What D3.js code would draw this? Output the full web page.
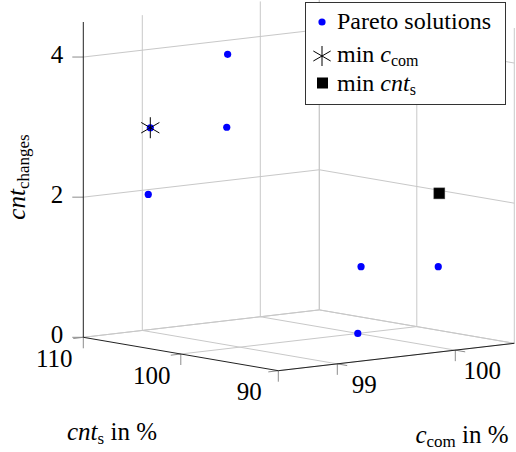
<!DOCTYPE html>
<html>
<head>
<meta charset="utf-8">
<script src="https://cdn.jsdelivr.net/npm/d3@7"></script>
<style>
  body { margin: 0; background: white; }
</style>
</head>
<body>
<div class="Chart"></div>
<script>
// Pareto solutions (cnt_s in %, c_com in %, cnt_changes)
const cntS = [105.0, 107.0, 104.0, 108.3, 98.7, 95.5, 100.0];
const cCom = [99.31, 98.82, 99.22, 98.91, 99.92, 100.31, 100.0];
const cntChanges = [4, 3, 3, 2, 1, 1, 0];

// special solutions
const minCcom = [107.0, 98.82, 3];
const minCntS = [96.6, 100.41, 2];

// ticks
const sTicks = [90, 100, 110];
const cTicks = [99, 100];
const zTicks = [0, 2, 4];

const sDomain = [90, 110];
const cDomain = [98.5, 100.5];
const zDomain = [0, 4.5];

const legendLabels = ["Pareto solutions", "min c_com", "min cnt_s"];

const FONT = "'Liberation Serif', 'DejaVu Serif', serif";

function createChart() {
  const width = 516, height = 452;

  const svg = d3.select(".Chart")
    .append("svg")
    .attr("width", width)
    .attr("height", height)
    .attr("font-family", FONT)
    .style("font-family", FONT);

  // 3D projection: two in-plane directions for the floor, z straight up
  const sScale = d3.scaleLinear().domain(sDomain).range([0, 1]);
  const cScale = d3.scaleLinear().domain(cDomain).range([0, 1]);
  const zScale = d3.scaleLinear().domain(zDomain).range([0, 315.3]);
  const origin = [278.3, 370.7];
  const sVec = [-195, -33.4];
  const cVec = [236, -27.4];

  function proj(s, c, z) {
    const a = sScale(s), b = cScale(c);
    return [
      origin[0] + a * sVec[0] + b * cVec[0],
      origin[1] + a * sVec[1] + b * cVec[1] - zScale(z)
    ];
  }

  function seg(p, q, stroke, w) {
    svg.append("line")
      .attr("x1", p[0]).attr("y1", p[1])
      .attr("x2", q[0]).attr("y2", q[1])
      .attr("stroke", stroke)
      .attr("stroke-width", w || 1);
  }

  const gridColor = "#c8c8c8";
  const [s0, s1] = sDomain, [c0, c1] = cDomain, [z0, z1] = zDomain;

  // floor grid
  sTicks.forEach((s) => seg(proj(s, c0, 0), proj(s, c1, 0), gridColor));
  cTicks.forEach((c) => seg(proj(s0, c, 0), proj(s1, c, 0), gridColor));
  seg(proj(s0, c1, 0), proj(s1, c1, 0), gridColor);

  // back-left wall (cnt_s = 110)
  cTicks.concat([c1]).forEach((c) => seg(proj(s1, c, z0), proj(s1, c, z1), gridColor));
  zTicks.forEach((z) => seg(proj(s1, c0, z), proj(s1, c1, z), gridColor));

  // back-right wall (c_com = max)
  sTicks.forEach((s) => seg(proj(s, c1, z0), proj(s, c1, z1), gridColor));
  zTicks.forEach((z) => seg(proj(s0, c1, z), proj(s1, c1, z), gridColor));

  // ticks
  const tickColor = "#8c8c8c";
  sTicks.forEach((s) => {
    const p = proj(s, c0, 0);
    seg(p, [p[0], p[1] + 11], tickColor);
    seg(p, [p[0] - 10, p[1] + 1.2], tickColor);
    svg.append("text")
      .attr("x", p[0] - 29).attr("y", p[1] + 21)
      .attr("dy", "0.35em")
      .attr("text-anchor", "middle")
      .style("font-size", "25px")
      .text(s);
  });
  cTicks.forEach((c) => {
    const p = proj(s0, c, 0);
    seg(p, [p[0], p[1] + 11], tickColor);
    seg(p, [p[0] + 9.9, p[1] + 1.7], tickColor);
    svg.append("text")
      .attr("x", p[0] + 27).attr("y", p[1] + 20)
      .attr("dy", "0.35em")
      .attr("text-anchor", "middle")
      .style("font-size", "25px")
      .text(c);
  });
  zTicks.forEach((z) => {
    const p = proj(s1, c0, z);
    seg(p, [p[0] - 11, p[1]], tickColor);
    svg.append("text")
      .attr("x", p[0] - 20).attr("y", p[1] - 3)
      .attr("dy", "0.35em")
      .attr("text-anchor", "end")
      .style("font-size", "25px")
      .text(z);
  });

  // axis lines
  seg(proj(s1, c0, z0), proj(s1, c0, z1), "#222");
  seg(proj(s0, c0, 0), proj(s1, c0, 0), "#222");
  seg(proj(s0, c0, 0), proj(s0, c1, 0), "#222");

  // Pareto points
  const points = cntS.map((s, i) => ({ s: s, c: cCom[i], z: cntChanges[i] }));
  svg.selectAll(".pt")
    .data(points)
    .enter()
    .append("circle")
    .attr("class", "pt")
    .attr("cx", (d) => proj(d.s, d.c, d.z)[0])
    .attr("cy", (d) => proj(d.s, d.c, d.z)[1])
    .attr("r", 3.6)
    .attr("fill", "#0000ff");

  function asterisk(g, x, y, r) {
    const path = d3.path();
    [90, 30, -30].forEach((a) => {
      const rad = (a * Math.PI) / 180;
      path.moveTo(x - r * Math.cos(rad), y - r * Math.sin(rad));
      path.lineTo(x + r * Math.cos(rad), y + r * Math.sin(rad));
    });
    g.append("path")
      .attr("d", path.toString())
      .attr("stroke", "black")
      .attr("stroke-width", 1)
      .attr("fill", "none");
  }

  const pStar = proj(minCcom[0], minCcom[1], minCcom[2]);
  asterisk(svg, pStar[0], pStar[1], 10.5);

  const pSq = proj(minCntS[0], minCntS[1], minCntS[2]);
  svg.append("rect")
    .attr("x", pSq[0] - 5.5).attr("y", pSq[1] - 5.5)
    .attr("width", 11).attr("height", 11)
    .attr("fill", "black")
    .attr("stroke", "#555")
    .attr("stroke-width", 0.5);

  // axis labels
  const lab1 = svg.append("text")
    .attr("x", 112).attr("y", 440)
    .attr("text-anchor", "middle")
    .style("font-size", "25px");
  lab1.append("tspan").style("font-style", "italic").text("cnt");
  lab1.append("tspan").attr("dy", 4).style("font-size", "17px").text("s");
  lab1.append("tspan").attr("dy", -4).text(" in %");

  const lab2 = svg.append("text")
    .attr("x", 462).attr("y", 443)
    .attr("text-anchor", "middle")
    .style("font-size", "25px");
  lab2.append("tspan").style("font-style", "italic").text("c");
  lab2.append("tspan").attr("dy", 4).style("font-size", "17px").text("com");
  lab2.append("tspan").attr("dy", -4).text(" in %");

  const lab3 = svg.append("text")
    .attr("transform", "translate(25,177) rotate(-90)")
    .attr("text-anchor", "middle")
    .style("font-size", "25px");
  lab3.append("tspan").style("font-style", "italic").text("cnt");
  lab3.append("tspan").attr("dy", 4).style("font-size", "17px").text("changes");

  // legend
  const legend = svg.append("g");
  legend.append("rect")
    .attr("x", 305.5).attr("y", 2.5)
    .attr("width", 200).attr("height", 102)
    .attr("fill", "white")
    .attr("stroke", "#333")
    .attr("stroke-width", 1);

  legend.append("circle")
    .attr("cx", 322).attr("cy", 22).attr("r", 3.6)
    .attr("fill", "#0000ff");
  legend.append("text")
    .attr("x", 337).attr("y", 29)
    .style("font-size", "24px")
    .text(legendLabels[0]);

  asterisk(legend, 322, 56, 10);
  const t2 = legend.append("text")
    .attr("x", 337).attr("y", 62)
    .style("font-size", "24px");
  t2.append("tspan").text("min ");
  t2.append("tspan").style("font-style", "italic").text("c");
  t2.append("tspan").attr("dy", 4).style("font-size", "16px").text("com");

  legend.append("rect")
    .attr("x", 317).attr("y", 77.5)
    .attr("width", 11).attr("height", 11)
    .attr("fill", "black");
  const t3 = legend.append("text")
    .attr("x", 337).attr("y", 91)
    .style("font-size", "24px");
  t3.append("tspan").text("min ");
  t3.append("tspan").style("font-style", "italic").text("cnt");
  t3.append("tspan").attr("dy", 4).style("font-size", "16px").text("s");
}

createChart();
</script>
</body>
</html>
